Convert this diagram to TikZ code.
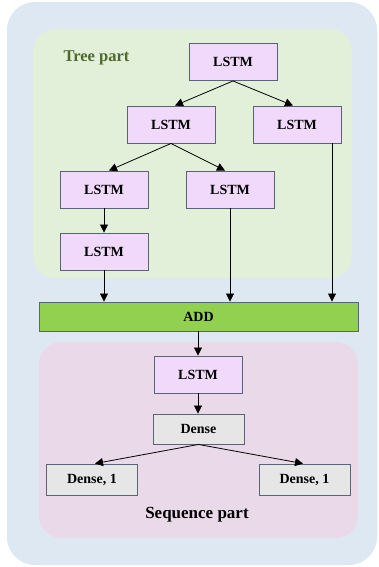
\documentclass[tikz,border=0pt]{standalone}
\usepackage{fontspec}
\setmainfont{Liberation Serif}
\usetikzlibrary{arrows.meta}
\definecolor{outerblue}{HTML}{DEE8F3}
\definecolor{treegreen}{HTML}{E2EFD9}
\definecolor{seqpink}{HTML}{EAD9E9}
\definecolor{lstmfill}{HTML}{F0D9FB}
\definecolor{densefill}{HTML}{E7E6E6}
\definecolor{addgreen}{HTML}{92D050}
\definecolor{boxline}{HTML}{5A6478}
\definecolor{treetext}{HTML}{4E6A2C}
\begin{document}
\begin{tikzpicture}[x=1pt, y=-1pt,
    lstm/.style={rectangle, draw=boxline, line width=0.9pt, fill=lstmfill, minimum width=88pt, minimum height=37pt, inner sep=0pt, font=\fontsize{14}{16}\selectfont\bfseries},
    dense/.style={rectangle, draw=boxline, line width=0.9pt, fill=densefill, minimum width=91pt, minimum height=30pt, inner sep=0pt, font=\fontsize{14}{16}\selectfont\bfseries},
    arr/.style={-{Triangle[length=8pt,width=8pt]}, line width=0.8pt}]
            \useasboundingbox (0,0) rectangle (378,567);
            \fill [outerblue, rounded corners=28pt] (7,2) rectangle (377,565);
            \fill [treegreen, rounded corners=22pt] (33,29) rectangle (352,278);
            \fill [seqpink, rounded corners=22pt] (39,342) rectangle (358,538);
            \node [anchor=west, text=treetext, font=\fontsize{16.5}{18}\selectfont\bfseries] (TP) at (60,58) {Tree part};
            \node [font=\fontsize{17}{19}\selectfont\bfseries] (SP) at (197,515) {Sequence part};
            
            \node [lstm] (L0) at (233,62) {LSTM};
            \node [lstm] (L1) at (171,124.5) {LSTM};
            \node [lstm] (R1) at (297,124.5) {LSTM};
            
            \node [lstm] (L2) at (104,189.5) {LSTM};
            \node [lstm] (M2) at (230,189.5) {LSTM};
            \node [lstm] (L3) at (104,251.5) {LSTM};
            
            \node [rectangle, draw=boxline, line width=0.9pt, fill=addgreen, minimum width=319pt, minimum height=29pt, inner sep=0pt, font=\fontsize{14}{16}\selectfont\bfseries] (ADD) at (198.5,316.5) {ADD};
            
            \node [lstm] (S) at (198,374.5) {LSTM};
            \node [dense] (D) at (198.5,429) {Dense};
            \node [dense, minimum height=31pt] (D1) at (92,479.5) {Dense, 1};
            \node [dense, minimum height=31pt] (D2) at (304.5,479.5) {Dense, 1};
            
            \draw [arr] (L0.south) -- ([xshift=4pt]L1.north); \draw [arr] (L0.south) -- ([xshift=-4pt]R1.north);
            \draw [arr] (L1.south) -- ([xshift=5pt]L2.north); \draw [arr] (L1.south) -- ([xshift=-5pt]M2.north);
            \draw [arr] (L2) -- (L3);
            \draw [arr] (L3) -- (L3 |- ADD.north); \draw [arr] (M2) -- (M2 |- ADD.north);
            \draw [arr] ([xshift=35pt]R1.south) -- ([xshift=35pt]R1.south |- ADD.north);
            \draw [arr] (ADD.south -| S) -- (S);
            \draw [arr] (S) -- (S |- D.north);
            \draw [arr] (D.south) -- ([xshift=3pt]D1.north); \draw [arr] (D.south) -- ([xshift=-1.5pt]D2.north);
        \end{tikzpicture}
\end{document}
